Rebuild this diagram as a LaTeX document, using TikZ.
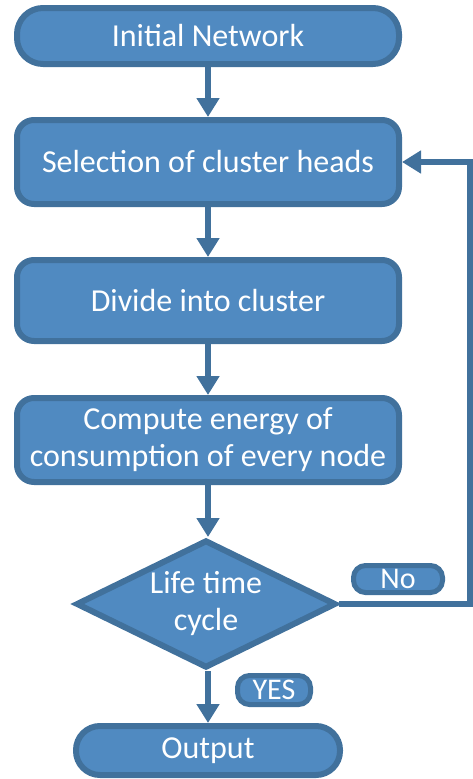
\documentclass[tikz,border=0pt]{standalone}
\usepackage{fontspec}
\setmainfont{Carlito}
\usetikzlibrary{shapes.geometric,arrows.meta}
\definecolor{boxfill}{RGB}{80,138,193}
\definecolor{boxline}{RGB}{65,113,156}
\tikzset{
  base/.style={draw=boxline, fill=boxfill, line width=6pt, text=white, inner sep=0pt, align=center, font=\fontsize{32}{37}\selectfont},
  procbox/.style={base, rectangle, rounded corners=17pt, minimum width=382pt},
  termbox/.style={base, rectangle, rounded corners=26pt},
  decbox/.style={base, diamond, aspect=2, minimum width=260pt, minimum height=128pt, line width=6pt},
  tagbox/.style={base, rectangle, rounded corners=12pt, line width=5pt, font=\fontsize{30}{34}\selectfont},
  flow/.style={draw=boxline, line width=6pt, -{Triangle[length=19pt,width=22pt]}},
  plain/.style={draw=boxline, line width=6pt}
}
\begin{document}
\begin{tikzpicture}[x=1pt,y=-1pt]
\useasboundingbox (0,0) rectangle (473,779);
\node[termbox, minimum width=382pt, minimum height=56pt] (init) at (208,36) {Initial Network};
\node[procbox, minimum height=84pt] (sel) at (208,162) {Selection of cluster heads};
\node[procbox, minimum height=81pt] (div) at (208,300.5) {Divide into cluster};
\node[procbox, minimum height=84pt] (comp) at (208,440) {Compute energy of\\consumption of every node};
\node[decbox] (dec) at (206,604) {Life time\\cycle};
\node[termbox, minimum width=264pt, minimum height=49pt, rounded corners=24pt] (out) at (208,750.5) {Output};
\node[tagbox, minimum width=89pt, minimum height=27pt] (no) at (398,579) {No};
\node[tagbox, minimum width=73pt, minimum height=29pt] (yes) at (274,690) {YES};
\coordinate (c1) at (470,604);
\coordinate (c2) at (470,162);
\draw[flow] (init.south) -- (sel.north);
\draw[flow] (sel.south) -- (div.north);
\draw[flow] (div.south) -- (comp.north);
\draw[flow] (comp.south) -- (dec.north -| comp.south);
\draw[flow] (dec.south -| out.north) -- (out.north);
\draw[flow] (dec.east) -- (c1) -- (c2) -- (sel.east);
\end{tikzpicture}
\end{document}
